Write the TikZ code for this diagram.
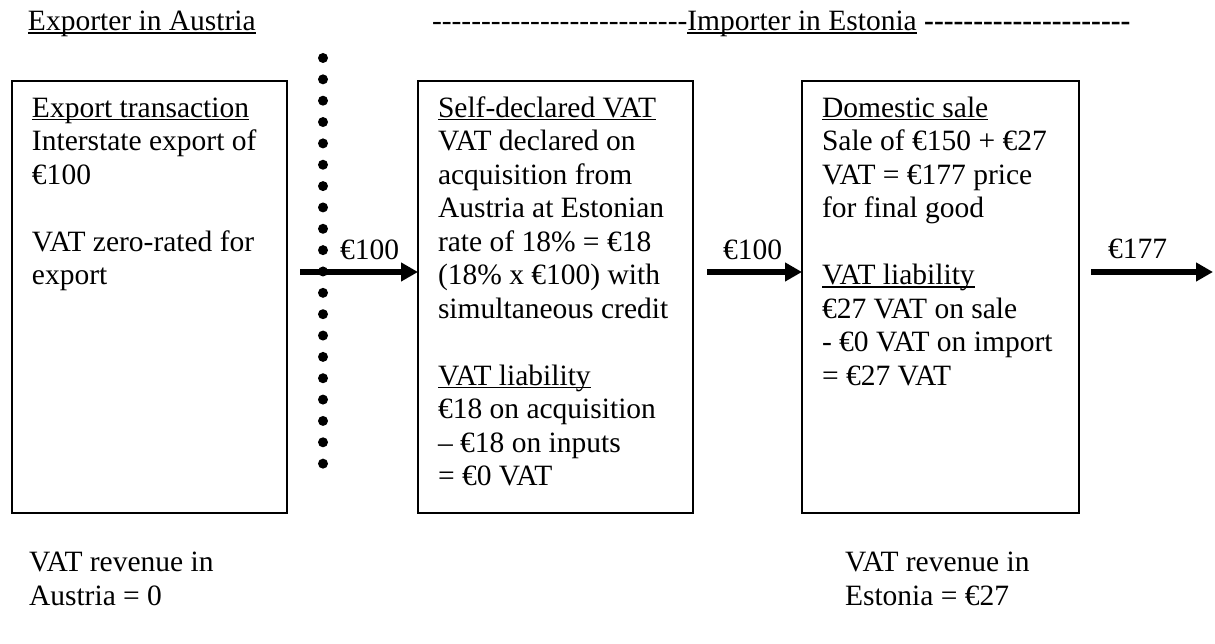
\documentclass[tikz,border=0pt]{standalone}
\usepackage{fontspec}
\setmainfont{Liberation Serif}
\usetikzlibrary{arrows.meta}
\newcommand\myul[1]{\setbox0\hbox{#1}\rlap{\rule[-1.1pt]{\wd0}{0.55pt}}\box0}
\newcommand\myulh[1]{\setbox0\hbox{#1}\rlap{\rule[-1.3pt]{\wd0}{0.75pt}}\box0}
\newcommand\hy{-\kern0pt}
\newcount\hycnt
\newcommand\hyn[1]{\hycnt=#1\relax\loop\hy\advance\hycnt-1\ifnum\hycnt>0\repeat}
\begin{document}
\begin{tikzpicture}[x=0.4pt,y=-0.4pt,
  every node/.style={inner sep=0pt,outer sep=0pt,font=\fontsize{11.8}{13.4}\selectfont},
  box/.style={draw,line width=1.1pt,minimum height=172.8pt,minimum width=110pt},
  flow/.style={line width=2.4pt,-{Triangle[length=6.8pt,width=7.2pt]}},
  txt/.style={anchor=base west}]
\useasboundingbox (0,0) rectangle (1215,644);
% header
\node[txt] (h1) at (28,30.7) {\myulh{Exporter in Austria}};
\node[txt] (h2) at (432,30.7) {\hyn{25}\myulh{Importer in Estonia}\ {\bfseries\hyn{20}}};
% boxes
\node[box] (b1) at (149.5,297) {};
\node[box] (b2) at (555.5,297) {};
\node[box,minimum width=110.8pt] (b3) at (940.5,297) {};
% box texts
\node[txt] (t1) at (32,117.5) {\begin{tabular}[t]{@{}l@{}}
\myul{Export transaction}\\
Interstate export of\\
€100\\
\\
VAT zero-rated for\\
export
\end{tabular}};
\node[txt] (t2) at (438,117.5) {\begin{tabular}[t]{@{}l@{}}
\myul{Self-declared VAT}\\
VAT declared on\\
acquisition from\\
Austria at Estonian\\
rate of 18\% = €18\\
(18\% x €100) with\\
simultaneous credit\\
\\
\myul{VAT liability}\\
€18 on acquisition\\
– €18 on inputs\\
= €0 VAT
\end{tabular}};
\node[txt] (t3) at (822,117.5) {\begin{tabular}[t]{@{}l@{}}
\myul{Domestic sale}\\
Sale of €150 + €27\\
VAT = €177 price\\
for final good\\
\\
\myul{VAT liability}\\
€27 VAT on sale\\
- €0 VAT on import\\
= €27 VAT
\end{tabular}};
% dotted border line
\foreach \k in {0,...,19} \fill (323,58+21.35*\k) circle[radius=2pt];
% arrows
\coordinate (a1s) at (300,272);
\coordinate (a2s) at (707,272);
\coordinate (a3s) at (1091,272);
\coordinate (a3e) at (1213,272);
\draw[flow] (a1s) -- (a1s -| b2.west);
\draw[flow] (a2s) -- (a2s -| b3.west);
\draw[flow] (a3s) -- (a3e);
\node[txt] (l1) at (340,260) {€100};
\node[txt] (l2) at (723,260) {€100};
\node[txt] (l3) at (1108,259) {€177};
% bottom
\node[txt] (r1) at (29,572) {\begin{tabular}[t]{@{}l@{}}VAT revenue in\\Austria = 0\end{tabular}};
\node[txt] (r2) at (845,572) {\begin{tabular}[t]{@{}l@{}}VAT revenue in\\Estonia = €27\end{tabular}};
\end{tikzpicture}
\end{document}
